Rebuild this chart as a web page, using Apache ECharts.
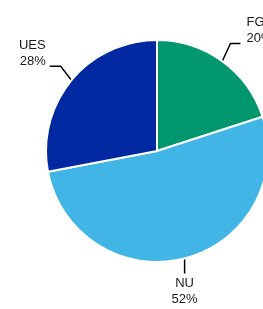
<!DOCTYPE html>
<html>
<head>
<meta charset="utf-8">
<script src="https://cdn.jsdelivr.net/npm/echarts@6/dist/echarts.min.js"></script>
<style>
  html, body { margin: 0; padding: 0; background: #fff; }
  #chart { width: 263px; height: 309px; }
</style>
</head>
<body>
<div id="chart"></div>
<script>
var names = ["FG", "NU", "UES"];
var values = [20, 52, 28];
var colors = ["#00966e", "#41b6e6", "#0028a0"];

var cx = 157, cy = 151, r = 111;

var chart = echarts.init(document.getElementById("chart"));
var option = {
  animation: false,
  series: [
    {
      type: "pie",
      center: [cx, cy],
      radius: r,
      startAngle: 90,
      clockwise: true,
      data: names.map(function (n, i) {
        return { name: n, value: values[i], itemStyle: { color: colors[i] } };
      }),
      itemStyle: { borderColor: "#fff", borderWidth: 2 },
      label: {
        formatter: "{b}\n{d}%",
        fontFamily: "Liberation Sans, Arial, sans-serif",
        fontSize: 13,
        lineHeight: 16,
        color: "#1a1a1a",
        overflow: "none"
      },
      labelLine: {
        length: 20,
        length2: 10,
        lineStyle: { color: "#000", width: 1.5 }
      },
      labelLayout: function (params) {
        var pts = params.labelLinePoints;
        if (!pts) return {};
        var p0 = pts[0];
        var dx = (p0[0] - cx) / r, dy = (p0[1] - cy) / r;
        // label under the pie: vertical line, text centred below it
        if (dy > 0.9) {
          var q = [p0[0], p0[1] + 15];
          return {
            x: p0[0],
            y: q[1] + 2,
            align: "center",
            verticalAlign: "top",
            labelLinePoints: [p0, q, q]
          };
        }
        var left = dx < 0;
        var p1 = [p0[0] + dx * 14, p0[1] + dy * 22];
        var p2 = [p1[0] + (left ? -11 : 10), p1[1]];
        return {
          x: p2[0] + (left ? -4 : 6),
          y: p2[1] + 3,
          align: left ? "right" : "left",
          verticalAlign: "bottom",
          labelLinePoints: [p0, p1, p2]
        };
      }
    }
  ]
};
chart.setOption(option);
</script>
</body>
</html>
